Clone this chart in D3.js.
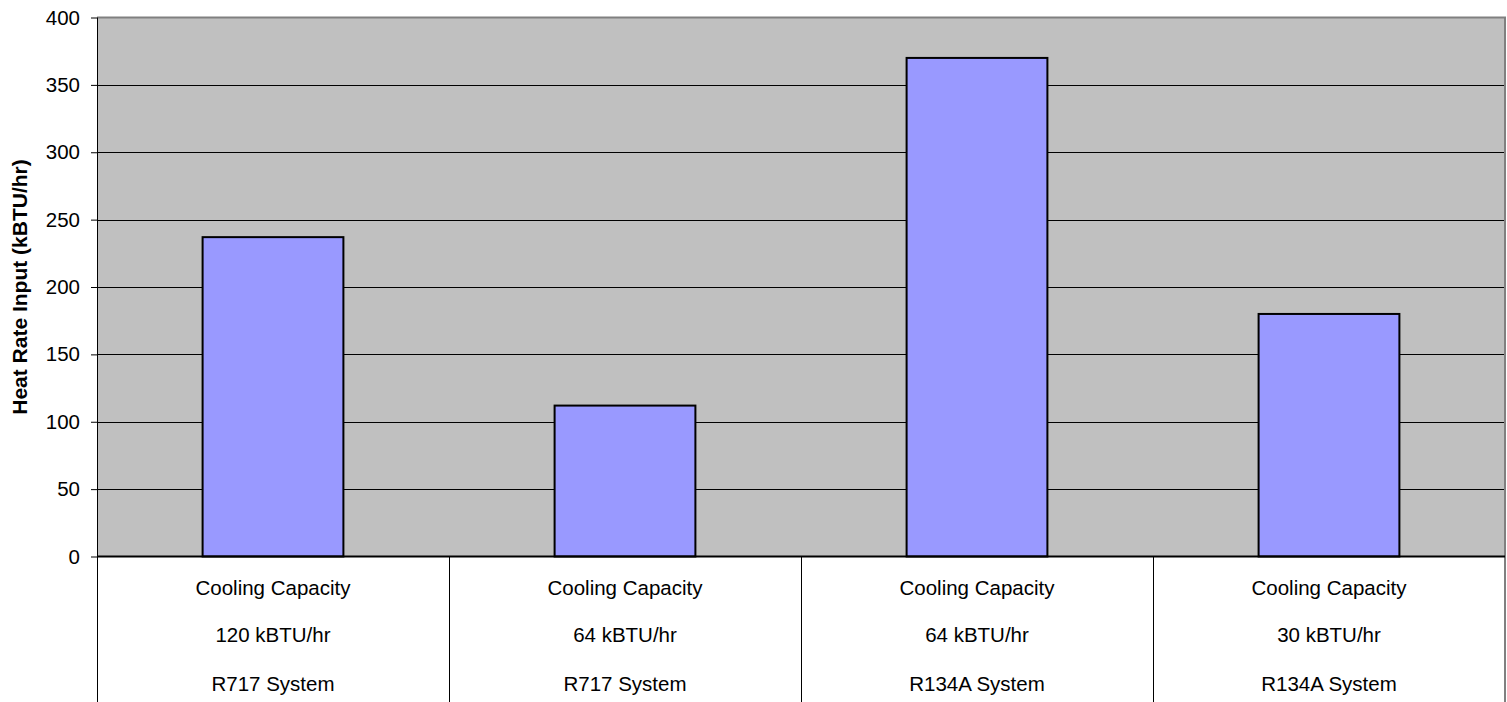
<!DOCTYPE html>
<html>
<head>
<meta charset="utf-8">
<script src="https://cdn.jsdelivr.net/npm/d3@7"></script>
<style>
  html, body { margin: 0; padding: 0; background: #fff; }
  svg { display: block; }
  text { font-family: Arial, "Liberation Sans", sans-serif; fill: #000; }
</style>
</head>
<body>
<svg id="chart" width="1507" height="702"></svg>
<script>
// Heat rate input per system configuration
const capacityLabels = ["120 kBTU/hr", "64 kBTU/hr", "64 kBTU/hr", "30 kBTU/hr"];
const systemLabels = ["R717 System", "R717 System", "R134A System", "R134A System"];
const heatRateInput = [237, 112, 370, 180];
const yTicks = [0, 50, 100, 150, 200, 250, 300, 350, 400];

const svg = d3.select("#chart");
const W = 1507, H = 702;
const plot = { left: 97, top: 17.5, right: 1505, bottom: 556.5 };
const FONT = 20.5;

const cats = heatRateInput.map((_, i) => i);

const x = d3.scaleBand()
  .domain(cats)
  .range([plot.left, plot.right])
  .paddingInner(0.6)
  .paddingOuter(0.3);

const xOuter = d3.scaleBand().domain(cats).range([plot.left, plot.right]);

const y = d3.scaleLinear().domain([0, 400]).range([plot.bottom, plot.top]);

// Plot background
svg.append("rect")
  .attr("x", plot.left).attr("y", plot.top)
  .attr("width", plot.right - plot.left).attr("height", plot.bottom - plot.top)
  .attr("fill", "#c0c0c0");

// Gridlines
svg.append("g")
  .selectAll("line")
  .data(yTicks.filter(t => t > 0 && t < 400))
  .join("line")
  .attr("x1", plot.left).attr("x2", plot.right)
  .attr("y1", d => Math.round(y(d)) + 0.5).attr("y2", d => Math.round(y(d)) + 0.5)
  .attr("stroke", "#000").attr("stroke-width", 1);

// Top and right border of the plot area
svg.append("path")
  .attr("d", `M${plot.left},${plot.top} H${plot.right} V${H}`)
  .attr("fill", "none").attr("stroke", "#808080").attr("stroke-width", 2);

// Bars
svg.append("g")
  .selectAll("rect")
  .data(heatRateInput)
  .join("rect")
  .attr("x", (d, i) => x(i))
  .attr("y", d => y(d))
  .attr("width", x.bandwidth())
  .attr("height", d => y(0) - y(d))
  .attr("fill", "#9999ff")
  .attr("stroke", "#000")
  .attr("stroke-width", 2);

// Y axis
const yAxis = d3.axisLeft(y).tickValues(yTicks).tickSize(6).tickPadding(11).tickFormat(d3.format("d"));
const gy = svg.append("g").attr("transform", `translate(${plot.left},0)`).call(yAxis);
gy.select(".domain").remove();
gy.selectAll(".tick line").attr("stroke", "#000");
gy.selectAll(".tick text").style("font-size", FONT + "px").style("font-family", "Arial, 'Liberation Sans', sans-serif");

// Left axis line extends through the category table
svg.append("line")
  .attr("x1", plot.left + 0.5).attr("x2", plot.left + 0.5)
  .attr("y1", plot.top).attr("y2", H)
  .attr("stroke", "#000").attr("stroke-width", 1);

// Zero baseline
svg.append("line")
  .attr("x1", plot.left).attr("x2", plot.right)
  .attr("y1", plot.bottom).attr("y2", plot.bottom)
  .attr("stroke", "#000").attr("stroke-width", 2);

// Category table dividers
svg.append("g")
  .selectAll("line")
  .data(cats.slice(1))
  .join("line")
  .attr("x1", d => Math.round(xOuter(d)) + 0.5).attr("x2", d => Math.round(xOuter(d)) + 0.5)
  .attr("y1", plot.bottom).attr("y2", H)
  .attr("stroke", "#000").attr("stroke-width", 1);

// Category labels (three lines each)
const labelRows = cats.map(i => ["Cooling Capacity", capacityLabels[i], systemLabels[i]]);
const rowY = [595, 642, 691];
const lg = svg.append("g");
cats.forEach(i => {
  labelRows[i].forEach((t, r) => {
    lg.append("text")
      .attr("x", xOuter(i) + xOuter.bandwidth() / 2)
      .attr("y", rowY[r])
      .attr("text-anchor", "middle")
      .style("font-size", FONT + "px")
      .text(t);
  });
});

// Y axis title
svg.append("text")
  .attr("transform", `translate(27,${(plot.top + plot.bottom) / 2}) rotate(-90)`)
  .attr("text-anchor", "middle")
  .style("font-size", "21px")
  .style("font-weight", "bold")
  .text("Heat Rate Input (kBTU/hr)");
</script>
</body>
</html>
